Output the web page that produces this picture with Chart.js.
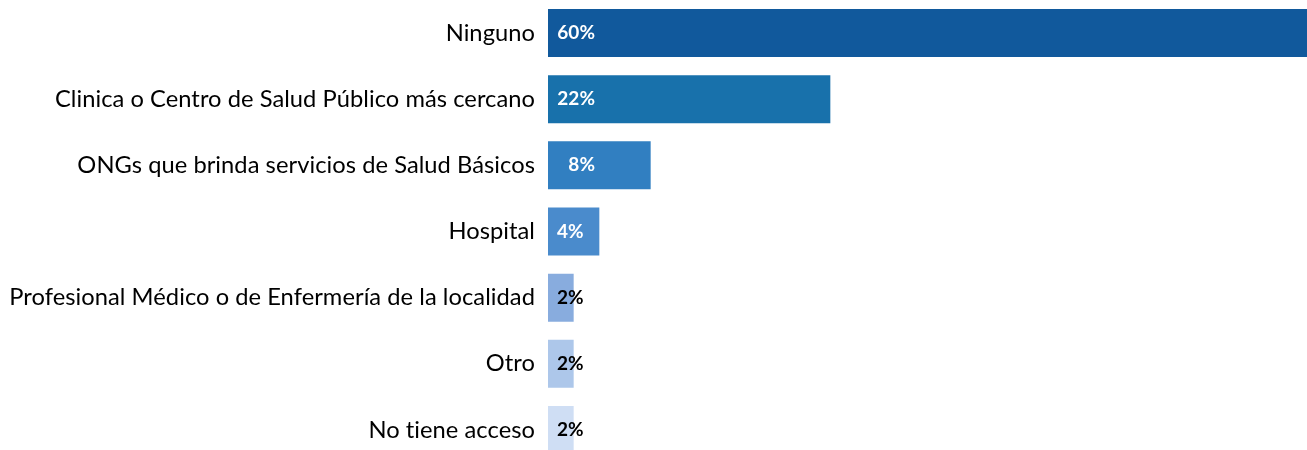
<!DOCTYPE html>
<html>
<head>
<meta charset="utf-8">
<script src="https://cdn.jsdelivr.net/npm/chart.js@4/dist/chart.umd.min.js"></script>
<style>
  html, body { margin: 0; padding: 0; background: #fff; overflow: hidden; }
  #wrap { width: 1318px; height: 463px; }
</style>
</head>
<body>
<div id="wrap"><canvas id="c" width="1318" height="463"></canvas></div>
<script>
const categories = [
  "Ninguno",
  "Clinica o Centro de Salud Público más cercano",
  "ONGs que brinda servicios de Salud Básicos",
  "Hospital",
  "Profesional Médico o de Enfermería de la localidad",
  "Otro",
  "No tiene acceso"
];
const values = [60, 22, 8, 4, 2, 2, 2];
const barColors = ["#11599c", "#1871ab", "#317fc1", "#4a8bcc", "#88acde", "#adc7ea", "#cfdef4"];
const labelColors = ["#ffffff", "#ffffff", "#ffffff", "#ffffff", "#000000", "#000000", "#000000"];

const FONT = "Lato, 'Open Sans', sans-serif";

const noLigatures = {
  id: 'noLigatures',
  beforeDraw(chart) {
    if ('letterSpacing' in chart.ctx) chart.ctx.letterSpacing = '0.05px';
  }
};

const valueLabels = {
  id: 'valueLabels',
  afterDatasetsDraw(chart) {
    const ctx = chart.ctx;
    const meta = chart.getDatasetMeta(0);
    ctx.save();
    ctx.font = "bold 19px " + FONT;
    ctx.textBaseline = 'middle';
    meta.data.forEach((bar, i) => {
      const w = bar.x - bar.base;
      ctx.fillStyle = labelColors[i];
      const txt = values[i] + "%";
      if (w > 90) {
        ctx.textAlign = 'right';
        ctx.fillText(txt, bar.base + 47, bar.y);
      } else {
        ctx.textAlign = 'left';
        ctx.fillText(txt, bar.base + 9, bar.y);
      }
    });
    ctx.restore();
  }
};

new Chart(document.getElementById('c'), {
  type: 'bar',
  data: {
    labels: categories,
    datasets: [{
      data: values,
      backgroundColor: barColors,
      borderWidth: 0,
      categoryPercentage: 0.8,
      barPercentage: 0.907
    }]
  },
  options: {
    indexAxis: 'y',
    responsive: false,
    animation: false,
    layout: { padding: 0 },
    plugins: { legend: { display: false }, tooltip: { enabled: false } },
    scales: {
      x: { display: false, min: 0, max: 60 },
      y: {
        grid: { display: false, drawTicks: false },
        border: { display: false },
        afterFit(scale) {
          scale.width = 548;
          scale.paddingTop = 0;
          scale.paddingBottom = 0;
        },
        ticks: {
          color: '#000',
          padding: 13,
          font: { family: FONT, size: 23.7 }
        }
      }
    }
  },
  plugins: [noLigatures, valueLabels]
});
</script>
</body>
</html>
